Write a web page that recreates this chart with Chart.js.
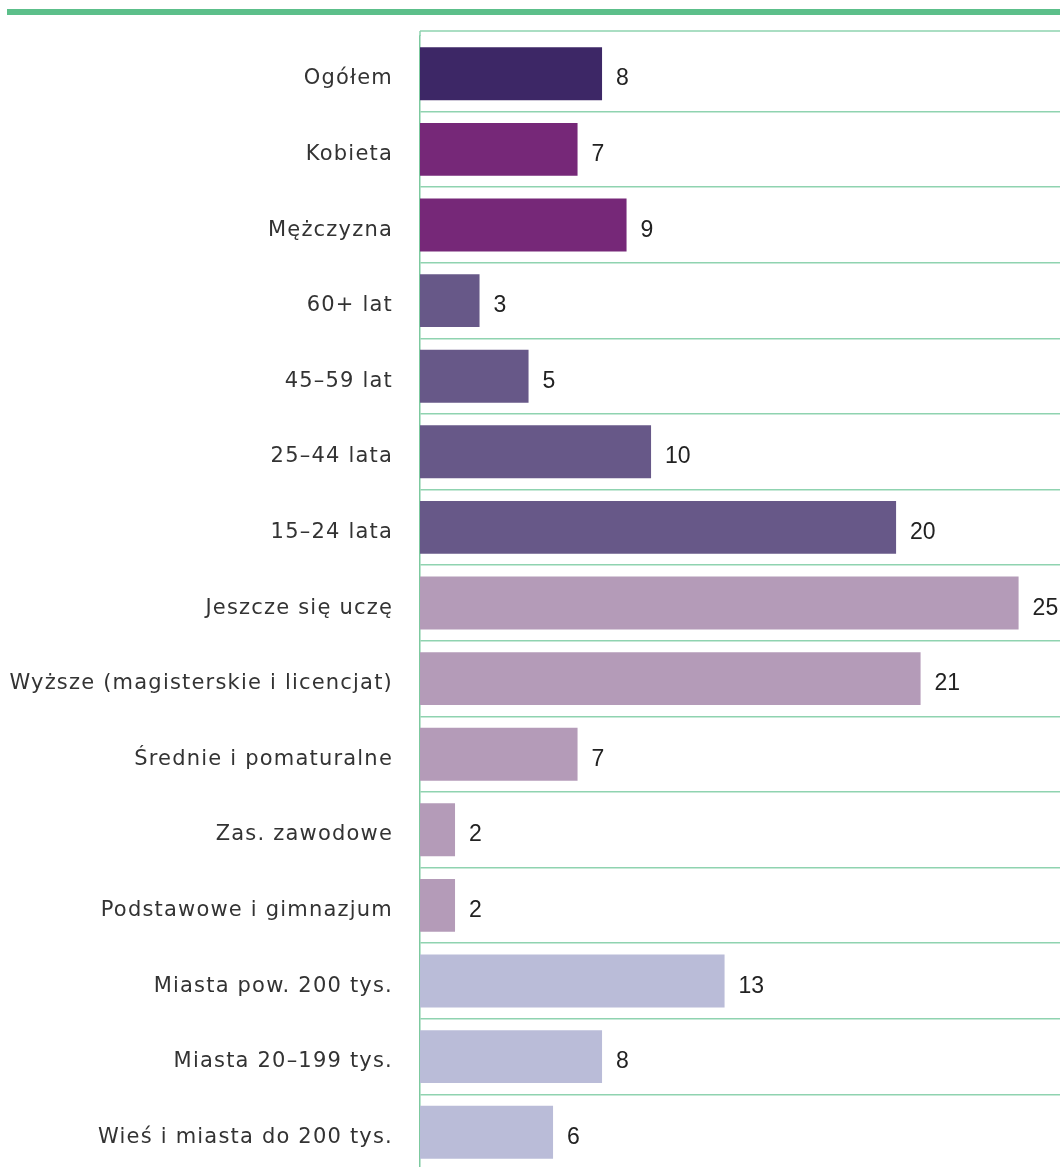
<!DOCTYPE html>
<html lang="pl">
<head>
<meta charset="utf-8">
<title>Wykres</title>
<script src="https://cdn.jsdelivr.net/npm/chart.js@4/dist/chart.umd.min.js"></script>
<style>
  html, body { margin: 0; padding: 0; background: #fff; overflow: hidden; }
  #wrap { position: relative; width: 1060px; height: 1175px; }
  #topLine { position: absolute; left: 7px; top: 9px; width: 1053px; height: 6px; background: #5cbf8a; }
  canvas { display: block; }
</style>
</head>
<body>
<div id="wrap">
  <div id="topLine"></div>
  <canvas id="barsChart" width="1060" height="1175"></canvas>
</div>
<script>
// kategorie i wartości (%)
const categories = [
  "Ogółem", "Kobieta", "Mężczyzna", "60+ lat", "45–59 lat", "25–44 lata", "15–24 lata",
  "Jeszcze się uczę", "Wyższe (magisterskie i licencjat)", "Średnie i pomaturalne",
  "Zas. zawodowe", "Podstawowe i gimnazjum", "Miasta pow. 200 tys.",
  "Miasta 20–199 tys.", "Wieś i miasta do 200 tys."
];
const values = [8, 7, 9, 3, 5, 10, 20, 25, 21, 7, 2, 2, 13, 8, 6];
// grupa kolorystyczna każdego słupka
const groups = ["all", "sex", "sex", "age", "age", "age", "age",
  "edu", "edu", "edu", "edu", "edu", "town", "town", "town"];
const groupColors = { all: "#3d2766", sex: "#762878", age: "#675888", edu: "#b49bb8", town: "#babcd8" };

const colors = groups.map((g) => groupColors[g]);
const GRID = "#8fd3b0";

// górna krawędź ramki trochę nad pierwszym wierszem
const topFrame = {
  id: "topFrame",
  beforeDatasetsDraw(chart) {
    const { ctx, chartArea } = chart;
    const y = chartArea.top - 5;
    ctx.save();
    ctx.strokeStyle = GRID;
    ctx.lineWidth = 1.5;
    ctx.beginPath();
    ctx.moveTo(chartArea.left, y);
    ctx.lineTo(chartArea.right, y);
    ctx.moveTo(chartArea.left, y);
    ctx.lineTo(chartArea.left, chartArea.top);
    ctx.stroke();
    ctx.restore();
  },
};

// nazwy kategorii (z odstępem liter) i wartości przy słupkach
const barLabels = {
  id: "barLabels",
  afterDatasetsDraw(chart) {
    const ctx = chart.ctx;
    const meta = chart.getDatasetMeta(0);
    const left = chart.chartArea.left;
    ctx.save();
    ctx.textBaseline = "alphabetic";
    meta.data.forEach((bar, i) => {
      ctx.font = "21px 'DejaVu Sans', sans-serif";
      ctx.letterSpacing = "1.2px";
      ctx.fillStyle = "#333333";
      ctx.textAlign = "right";
      ctx.fillText(categories[i], left - 27, bar.y + 10.5);

      ctx.font = "23px 'Liberation Sans', Arial, sans-serif";
      ctx.letterSpacing = "0px";
      ctx.fillStyle = "#222222";
      ctx.textAlign = "left";
      ctx.fillText(String(values[i]), bar.x + 14, bar.y + 11.5);
    });
    ctx.restore();
  },
};

new Chart(document.getElementById("barsChart"), {
  type: "bar",
  data: {
    labels: categories,
    datasets: [{
      data: values,
      backgroundColor: colors,
      borderWidth: 0,
      barPercentage: 0.7,
      categoryPercentage: 1,
    }],
  },
  options: {
    indexAxis: "y",
    responsive: false,
    animation: false,
    layout: { padding: { top: 36, bottom: 5, left: 0, right: 0 } },
    plugins: { legend: { display: false }, tooltip: { enabled: false } },
    scales: {
      x: {
        display: false,
        min: 0.57,
        max: 26.69,
      },
      y: {
        afterFit(scale) {
          scale.width = 420;
          scale.paddingTop = 0;
          scale.paddingBottom = 0;
        },
        grid: {
          color: (c) => (c.index === 0 ? "rgba(0,0,0,0)" : GRID),
          lineWidth: 1.5,
          drawTicks: false,
        },
        border: { color: "#7cc99f", width: 1.5 },
        ticks: { display: false },
      },
    },
  },
  plugins: [topFrame, barLabels],
});
</script>
</body>
</html>
